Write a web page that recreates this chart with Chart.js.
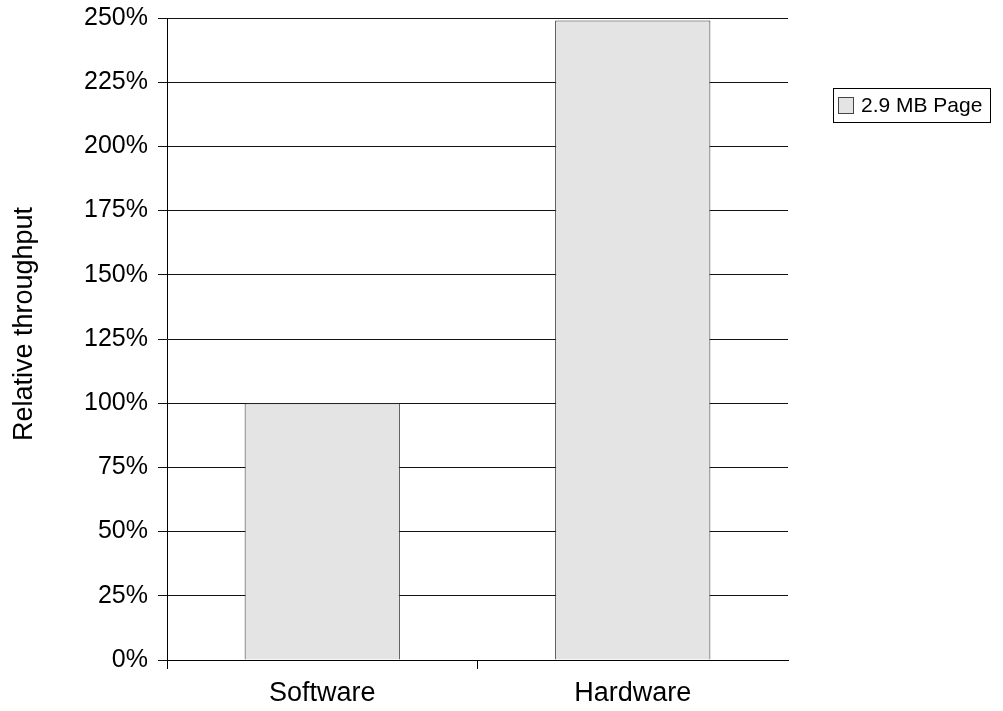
<!DOCTYPE html>
<html>
<head>
<meta charset="utf-8">
<script src="https://cdn.jsdelivr.net/npm/chart.js@4"></script>
<style>
  html, body { margin: 0; padding: 0; background: #fff; }
  #wrap { width: 1003px; height: 711px; }
</style>
</head>
<body>
<div id="wrap"><canvas id="throughputChart" width="1003" height="711"></canvas></div>
<script>
const categories = ["Software", "Hardware"];
const seriesLabel = "2.9 MB Page";
const throughput = [100, 249];
const yTicks = [0, 25, 50, 75, 100, 125, 150, 175, 200, 225, 250];
const yTitle = "Relative throughput";

const FONT = "'Liberation Sans', Arial, sans-serif";

// boxed legend at the right plus the rotated y-axis title
const extras = {
    id: "extras",
    afterDraw(chart) {
        const ctx = chart.ctx;
        const ds = chart.data.datasets[0];
        ctx.save();
        ctx.strokeStyle = "#000";
        ctx.lineWidth = 1;
        ctx.strokeRect(833.5, 88.5, 157, 34);
        ctx.fillStyle = ds.backgroundColor;
        ctx.fillRect(838.5, 97.5, 15, 16);
        ctx.strokeStyle = "#444";
        ctx.strokeRect(838.5, 97.5, 15, 16);
        ctx.fillStyle = "#000";
        ctx.font = "21px " + FONT;
        ctx.textBaseline = "middle";
        ctx.fillText(ds.label, 861, 106);

        ctx.translate(25, 324);
        ctx.rotate(-Math.PI / 2);
        ctx.font = "27px " + FONT;
        ctx.textAlign = "center";
        ctx.fillText(yTitle, 0, 0);
        ctx.restore();
    }
};

new Chart(document.getElementById("throughputChart"), {
    type: "bar",
    data: {
        labels: categories,
        datasets: [{
            label: seriesLabel,
            data: throughput,
            backgroundColor: "#e4e4e4",
            borderColor: "#333",
            borderWidth: 1,
            barPercentage: 0.5,
            categoryPercentage: 1
        }]
    },
    options: {
        responsive: false,
        animation: false,
        layout: { padding: { left: 0, right: 215, top: 18, bottom: 0 } },
        plugins: {
            legend: { display: false },
            tooltip: { enabled: false }
        },
        scales: {
            x: {
                border: { color: "#000", width: 1 },
                grid: {
                    drawOnChartArea: false,
                    tickLength: 9,
                    // the closing boundary line has no tick -> leave it out
                    color: c => c.tick ? "#000" : "rgba(0,0,0,0)"
                },
                ticks: { color: "#000", font: { family: FONT, size: 27 }, padding: 8 },
                afterFit(scale) { scale.height = 51; }
            },
            y: {
                min: 0,
                max: 250,
                afterBuildTicks(scale) { scale.ticks = yTicks.map(v => ({ value: v })); },
                border: { color: "#000", width: 1 },
                grid: { color: "#111", tickLength: 9 },
                ticks: {
                    color: "#000",
                    font: { family: FONT, size: 25 },
                    padding: 10,
                    callback: v => v + "%"
                },
                afterFit(scale) {
                    scale.width = 167;
                    // top label may overhang into the padding
                    scale.paddingTop = 0;
                    scale.paddingBottom = 0;
                }
            }
        }
    },
    plugins: [extras]
});
</script>
</body>
</html>
